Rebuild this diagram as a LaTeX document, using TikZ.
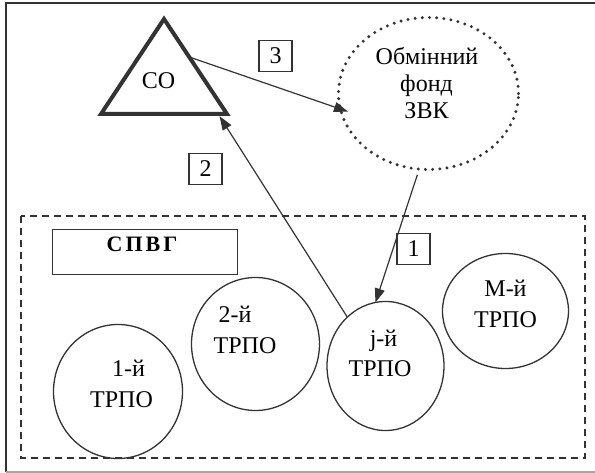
\documentclass[tikz,border=0pt]{standalone}
\usepackage{fontspec}
\setmainfont{Liberation Serif}
\usetikzlibrary{arrows.meta,shapes.geometric}
\definecolor{ln}{RGB}{51,51,51}
\begin{document}
\begin{tikzpicture}[x=1pt,y=-1pt,
  txt/.style={font=\fontsize{24}{28}\selectfont, inner sep=0pt, anchor=base, text=black},
  oval/.style={ellipse, draw=ln, line width=1.3pt, inner sep=0pt, outer sep=0pt},
  numbox/.style={draw=ln, line width=1.2pt, minimum width=33pt, minimum height=31pt, inner sep=0pt, font=\fontsize{24}{28}\selectfont},
  conn/.style={draw=ln, line width=1.2pt, -{Triangle[length=14pt,width=10pt]}}
]
\useasboundingbox (0,0) rectangle (595,473);
% outer frame
\draw[ln, line width=1.6pt] (6,472) -- (6,3) -- (595,3);
\draw[black!35, line width=1.2pt] (6,472) -- (595,472);
% dashed group
\draw[ln, line width=1.3pt, dash pattern=on 7pt off 5pt] (21,216) rectangle (585,458);
% triangle
\coordinate (apex) at (164,19);
\coordinate (bl) at (101,114);
\coordinate (br) at (227,114);
\draw[ln, line width=4pt, line join=miter] (apex) -- (br) -- (bl) -- cycle;
\node[txt] (co) at (158.5,89) {СО};
% exchange fund
\node[oval, dash pattern=on 0pt off 7.2pt, line cap=round, line width=3.3pt, minimum width=180pt, minimum height=152pt] (fund) at (428.5,93.5) {};
\node[txt] (f1) at (427,65) {Обмінний};
\node[txt] (f2) at (426.5,92) {фонд};
\node[txt] (f3) at (426.5,119) {ЗВК};
% circles
\node[oval, minimum width=129pt, minimum height=134pt] (c1) at (118,391.5) {};
\node[oval, minimum width=128pt, minimum height=133pt] (c2) at (255.5,344) {};
\node[oval, minimum width=117pt, minimum height=129pt] (cj) at (385.5,366) {};
\node[oval, minimum width=126pt, minimum height=115pt] (cm) at (505.5,311) {};
\node[txt] (l1a) at (128.5,377) {1-й};
\node[txt] (l1b) at (121.5,407) {ТРПО};
\node[txt] (l2a) at (235,323) {2-й};
\node[txt] (l2b) at (245,354) {ТРПО};
\node[txt] (lja) at (383.5,347) {j-й};
\node[txt] (ljb) at (380,377) {ТРПО};
\node[txt] (lma) at (505.5,297) {М-й};
\node[txt] (lmb) at (505.5,327) {ТРПО};
% SPVG box
\node[draw=ln, line width=1.3pt, minimum width=185pt, minimum height=45pt, inner sep=0pt] (spvg) at (145,252) {};
\node[txt, font=\bfseries\fontsize{22}{26}\selectfont] (spvgt) at (142,252) {С\kern3ptП\kern3ptВ\kern3ptГ};
% number boxes
\node[numbox] (n3) at (275.5,56) {3};
\node[numbox] (n2) at (205.5,169) {2};
\node[numbox] (n1) at (413.5,249) {1};
% connectors
\path (apex) -- (br) coordinate[pos=0.40] (t3);
\path (bl) -- (br) coordinate[pos=0.93] (t2);
\draw[conn, shorten >=-8pt] (t3) -- (fund.190);
\draw[conn, shorten >=2.5pt] (cj.128) -- (t2);
\draw[conn, shorten <=6pt] (fund.263) -- (cj.99);
\end{tikzpicture}
\end{document}
